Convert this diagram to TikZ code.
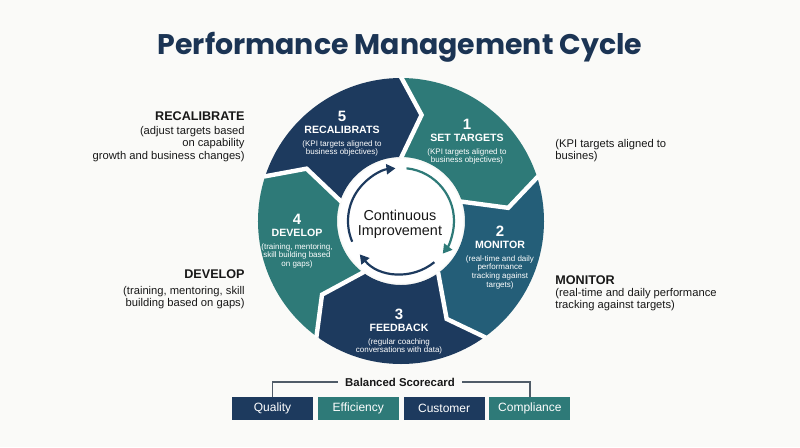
\documentclass[tikz,border=0pt]{standalone}
\usepackage{fontspec}
\setmainfont{Liberation Sans}
\newfontfamily\titlefont{Poppins}
\usetikzlibrary{arrows.meta,positioning}
\definecolor{pmnavy}{RGB}{29,58,94}
\definecolor{pmteal}{RGB}{46,122,120}
\definecolor{pmblue}{RGB}{36,94,120}
\definecolor{pmtitle}{RGB}{27,52,84}
\definecolor{pmink}{RGB}{24,24,24}
\definecolor{pmgrey}{RGB}{80,92,104}
\definecolor{pmpaper}{RGB}{250,250,248}
\tikzset{
  segnum/.style={text=white,inner sep=0pt,font=\fontsize{7.5}{8}\selectfont\bfseries},
  seghead/.style={text=white,inner sep=0pt,font=\fontsize{5.3}{6}\selectfont\bfseries},
  segnote/.style={text=white,inner sep=0pt,align=center,font=\fontsize{4}{4.3}\selectfont},
  sidehead/.style={text=pmink,inner sep=0pt,font=\fontsize{6.3}{7}\selectfont\bfseries},
  sidenote/.style={text=pmink,inner sep=0pt,font=\fontsize{5.6}{5.2}\selectfont},
  cardbox/.style={minimum width=40.5pt,minimum height=11.5pt,inner sep=0pt,text=white,
    font=\fontsize{6}{7}\selectfont},
  sepline/.style={draw=white,line width=2.2pt,line join=miter},
  loopline/.style={line width=1.1pt,-{Triangle[length=4.5pt,width=5pt]}},
  bracket/.style={draw=pmgrey,line width=0.7pt},
}
\newcommand{\wseg}[2]{%
  \fill[#2] (#1:143) arc[start angle=#1, end angle={#1-72}, radius=143]
    -- ({#1-83}:108) -- ({#1-72}:64) arc[start angle={#1-72}, end angle=#1, radius=64]
    -- ({#1-11}:108) -- cycle;}
\newcommand{\wsep}[1]{\draw[sepline] (#1:144) -- ({#1-11}:108) -- (#1:63);}
\newcommand{\wtext}[6]{%
  \node[segnum] (num#1) at (#2,{-#3+14}) {#4};
  \node[seghead] (head#1) at (#2,-#3) {#5};
  \node[segnote,anchor=north] (note#1) at (#2,{-#3-10}) {#6};}

\begin{document}
\begin{tikzpicture}[x=0.5pt,y=0.5pt]
  \fill[pmpaper] (0,0) rectangle (800,-447);
  \useasboundingbox (0,0) rectangle (800,-447);
  \node[text=pmtitle,font=\titlefont\bfseries\fontsize{14.2}{17}\selectfont] (title) at (400,-47)
    {Performance Management Cycle};
  \begin{scope}[shift={(401,-221)}]
    \wseg{162}{pmnavy}\wseg{90}{pmteal}\wseg{18}{pmblue}
    \wseg{-54}{pmnavy}\wseg{-126}{pmteal}
    \wsep{162}\wsep{90}\wsep{18}\wsep{-54}\wsep{-126}
    \fill[white] (0,0) circle[radius=62];
    \draw[loopline,pmnavy] (203:53) arc[start angle=203, end angle=96, radius=53];
    \draw[loopline,pmteal] (84:53) arc[start angle=84, end angle=-38, radius=53];
    \draw[loopline,pmnavy] (-51:53) arc[start angle=-51, end angle=-141, radius=53];
  \end{scope}
  \node[align=center,text=pmink,font=\fontsize{7.2}{7.6}\selectfont] (core) at (400,-224)
    {Continuous\\Improvement};
  \wtext{5}{342}{130}{5}{RECALIBRATS}{(KPI targets aligned to\\business objectives)}
  \wtext{1}{467}{138}{1}{SET TARGETS}{(KPI targets aligned to\\business objectives)}
  \wtext{2}{500}{245}{2}{MONITOR}{(real-time and daily\\performance\\tracking against\\targets)}
  \wtext{3}{399}{328}{3}{FEEDBACK}{(regular coaching\\conversations with data)}
  \wtext{4}{297}{233}{4}{DEVELOP}{(training, mentoring,\\skill building based\\on gaps)}
  \node[sidehead,anchor=east] (lrecal) at (245,-116) {RECALIBRATE};
  \node[sidenote,align=right,anchor=north east] (nrecal) at (245,-126)
    {(adjust targets based\\on capability\\growth and business changes)};
  \node[sidehead,anchor=east] (ldev) at (245,-274) {DEVELOP};
  \node[sidenote,align=right,anchor=north east] (ndev) at (245,-286)
    {(training, mentoring, skill\\building based on gaps)};
  \node[sidenote,align=left,anchor=north west] (nset) at (555,-139)
    {(KPI targets aligned to\\busines)};
  \node[sidehead,anchor=west] (lmon) at (555,-280) {MONITOR};
  \node[sidenote,align=left,anchor=north west] (nmon) at (555,-288)
    {(real-time and daily performance\\tracking against targets)};
  \node[cardbox,fill=pmnavy] (quality) at (272.5,-408.5) {Quality};
  \node[cardbox,fill=pmteal,right=2pt of quality] (efficiency) {Efficiency};
  \node[cardbox,fill=pmnavy,right=2pt of efficiency] (customer) {Customer};
  \node[cardbox,fill=pmteal,right=2pt of customer] (compliance) {Compliance};
  \node[text=pmink,inner xsep=3.5pt,font=\fontsize{5.7}{6}\selectfont\bfseries] (card) at (400,-382)
    {Balanced Scorecard};
  \draw[bracket] (quality.north) |- (card.west);
  \draw[bracket] (compliance.north) |- (card.east);
\end{tikzpicture}
\end{document}
